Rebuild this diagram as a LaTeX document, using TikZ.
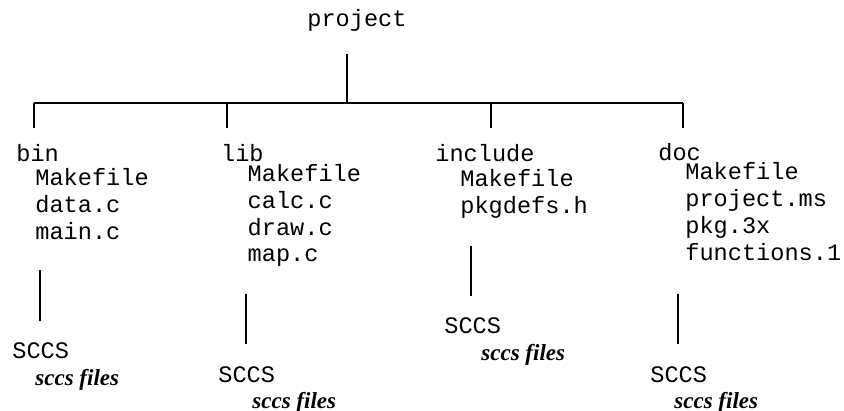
\documentclass[tikz,border=0pt]{standalone}
\usepackage{fontspec}
\setmainfont{Liberation Serif}
\setmonofont{Liberation Mono}
\tikzset{
  dirname/.style={font=\fontsize{11.8}{13}\ttfamily, anchor=base west, inner sep=0pt},
  fname/.style={font=\fontsize{11.8}{13}\ttfamily, anchor=base west, inner sep=0pt},
  sccsnote/.style={font=\fontsize{11.5}{13}\bfseries\itshape, anchor=base west, inner sep=0pt},
  treeline/.style={line width=1pt}
}
\begin{document}
\begin{tikzpicture}[x=0.5pt,y=-0.5pt]
\useasboundingbox (0,0) rectangle (844,411);
% top of the tree
\node[dirname] (project) at (307,26.7) {project};
\coordinate (ptop) at (346.7,54);
\coordinate (pbar) at (346.7,103);
\coordinate (bl) at (34,103);
\coordinate (br) at (683,103);
\draw[treeline] (ptop) -- (pbar);
\draw[treeline] (bl) -- (br);
% directories
\node[dirname] (bin) at (16,161.7) {bin};
\node[dirname] (lib) at (220.7,161.7) {lib};
\node[dirname] (include) at (435,161.7) {include};
\node[dirname] (doc) at (658,160.7) {doc};
\foreach \d/\x in {bin/34,lib/227,include/491,doc/683} {
  \coordinate (\d top) at (\x,103);
  \coordinate (\d bot) at (\x,128);
  \draw[treeline] (\d top) -- (\d bot);
}
% files
\foreach \f [count=\i] in {Makefile,data.c,main.c}
  \node[fname] (binf\i) at (35,185.7+27.1*\i-27.1) {\f};
\foreach \f [count=\i] in {Makefile,calc.c,draw.c,map.c}
  \node[fname] (libf\i) at (247.3,181.7+26.7*\i-26.7) {\f};
\foreach \f [count=\i] in {Makefile,pkgdefs.h}
  \node[fname] (incf\i) at (460,186.7+26.6*\i-26.6) {\f};
\foreach \f [count=\i] in {Makefile,project.ms,pkg.3x,functions.1}
  \node[fname] (docf\i) at (685,179.3+26.9*\i-26.9) {\f};
% sccs subdirectories
\node[dirname] (binsccs) at (12,358) {SCCS};
\node[sccsnote] (binnote) at (35,385) {sccs files};
\node[dirname] (libsccs) at (218,382) {SCCS};
\node[sccsnote] (libnote) at (252,408) {sccs files};
\node[dirname] (incsccs) at (444,333) {SCCS};
\node[sccsnote] (incnote) at (481,360) {sccs files};
\node[dirname] (docsccs) at (650,382) {SCCS};
\node[sccsnote] (docnote) at (674,408) {sccs files};
\foreach \d/\x/\a/\b in {bin/39.5/270/321,lib/246/294/344,inc/471/246/296,doc/678/294/344} {
  \coordinate (\d s1) at (\x,\a);
  \coordinate (\d s2) at (\x,\b);
  \draw[treeline] (\d s1) -- (\d s2);
}
\end{tikzpicture}
\end{document}
